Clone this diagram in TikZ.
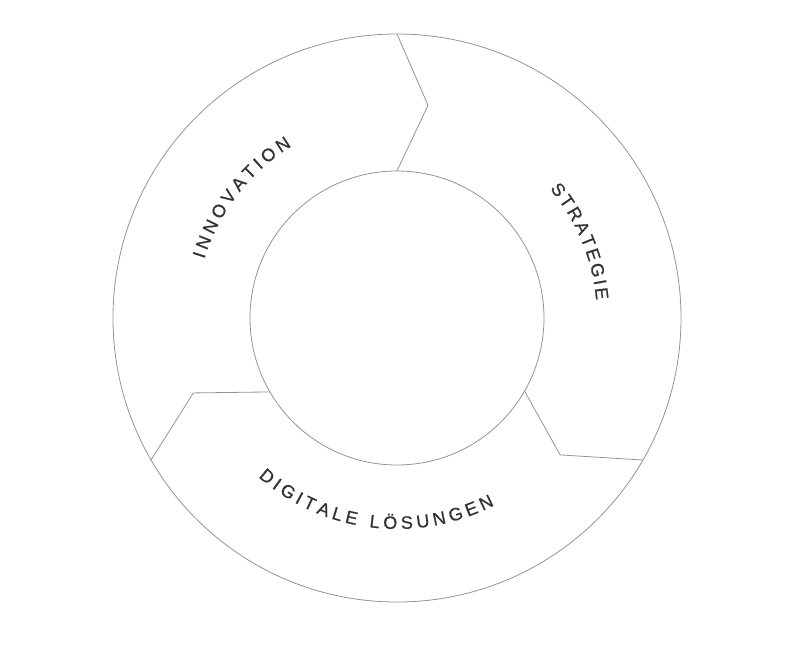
\documentclass[tikz,border=0pt]{standalone}
\usepackage{fontspec}
\setmainfont{Liberation Sans}
\newfontfamily\labelfont[FakeBold=0.8]{Liberation Sans}
\usetikzlibrary{decorations.text}
\begin{document}
\begin{tikzpicture}[x=1pt,y=1pt,
  ring/.style={draw=black!42, line width=0.8pt},
  divider/.style={draw=black!42, line width=0.8pt, line join=miter},
  arctext/.style={decorate, decoration={text along path, text align={fit to path}, text color=black!80, text={|\labelfont\fontsize{18}{21}\selectfont|#1}}}]
\useasboundingbox (-397,-331) rectangle (403,318);
% rings
\node[circle, ring, minimum size=568pt, inner sep=0pt] (outer) at (0,0) {};
\node[circle, ring, minimum size=294pt, inner sep=0pt] (inner) at (0,0) {};
% divider points
\coordinate (tO) at (90:284);   \coordinate (tT) at (81.7:215);  \coordinate (tI) at (90:147);
\coordinate (rO) at (-30:284);  \coordinate (rT) at (-40:213);   \coordinate (rI) at (-29.8:147);
\coordinate (lO) at (210:284);  \coordinate (lT) at (200.2:217); \coordinate (lI) at (210.2:147);
\draw[divider] (tO) -- (tT) -- (tI);
\draw[divider] (rO) -- (rT) -- (rI);
\draw[divider] (lO) -- (lT) -- (lI);
% curved labels
\path[arctext={INNOVATION}] (163:201.5) arc[start angle=163, end angle=121.5, radius=201.5];
\path[arctext={STRATEGIE}] (40.2:200) arc[start angle=40.2, end angle=5.1, radius=200];
\path[arctext={DIGITALE LÖSUNGEN}] (228.9:211) arc[start angle=228.9, end angle=297.5, radius=211];
\end{tikzpicture}
\end{document}
